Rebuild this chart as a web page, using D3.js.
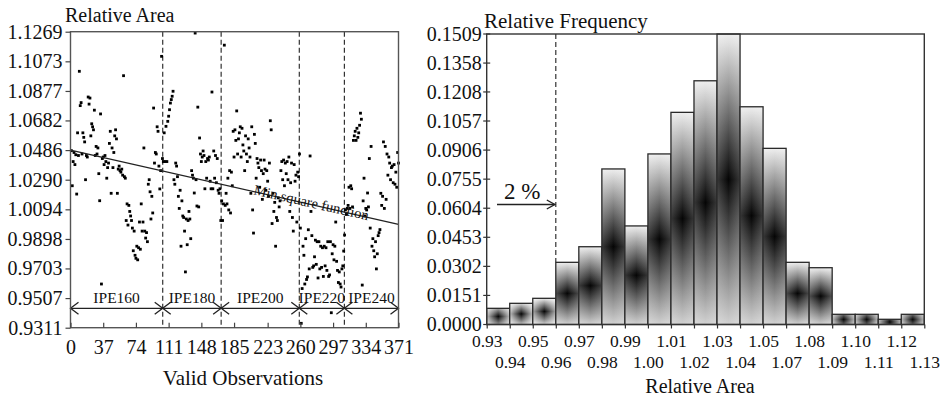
<!DOCTYPE html>
<html><head><meta charset="utf-8">
<script src="https://cdn.jsdelivr.net/npm/d3@7/dist/d3.min.js"></script>
<style>body{margin:0;background:#fff} svg{display:block}</style>
</head><body>
<svg id="chart" width="940" height="400" style="font-family:'Liberation Serif'"></svg>
<script>
const FONT = "Liberation Serif";
// ---------- Left panel data: relative area per valid observation ----------
const ipe160 = [
1.0482,1.025,1.041,1.047,1.039,1.0455,1.0195,1.060,1.045,1.1007,
1.078,1.080,1.046,1.060,1.057,1.054,1.029,1.045,1.044,1.0837,
1.079,1.083,1.058,1.066,1.064,1.062,1.075,1.045,1.051,1.046,
1.050,1.033,1.0151,1.0725,0.960,1.043,1.044,1.039,1.045,1.041,
1.030,1.037,1.040,1.053,1.061,1.020,1.050,1.037,1.047,1.058,
1.062,1.056,1.020,1.036,1.038,1.035,1.034,1.036,1.032,1.0978,
1.031,1.030,1.002,1.013,0.999,1.012,1.008,1.005,1.002,0.997,
0.982,0.995,0.979,0.977,0.985,0.976,0.984,1.001,0.983,1.013,
0.995,1.001,1.050,0.995,0.9904,0.994,0.988,1.026,1.029,1.021,
1.003,1.018,1.007,1.0764,1.040,1.047,1.046,1.064,1.061,1.038,
1.0229,1.035,1.1106,1.043];
const ipe180 = [
1.041,1.060,1.041,1.0643,1.041,1.0676,1.071,1.0753,1.0797,1.082,
1.0842,1.0875,1.029,1.026,1.040,1.038,1.031,1.018,1.010,1.022,
0.985,1.015,1.005,1.004,0.995,0.968,1.003,0.986,1.002,1.008,
1.003,0.990,1.035,1.032,1.030,1.0202,1.126,1.029,1.0116,1.077,
1.011,1.0566,1.046,1.041,1.044,1.048,1.045,1.023,1.041,1.030,
1.043,1.042,1.044,1.028,1.023,1.087,1.023,1.048,1.030,1.045,
1.027,1.043,1.022,1.020,1.023,1.002];
const ipe200 = [
1.015,1.002,1.013,1.118,1.012,1.020,1.013,1.030,1.009,1.035,
1.007,1.034,1.025,1.061,1.044,1.062,1.055,1.0745,1.046,1.056,
1.060,1.064,1.044,1.063,1.052,1.048,1.035,1.058,1.046,1.041,
1.056,1.050,1.044,1.020,1.064,1.009,0.9937,1.059,1.053,1.030,
1.043,1.040,1.037,1.024,1.042,1.035,1.016,1.033,1.042,1.036,
1.022,1.035,1.028,1.018,1.040,1.068,1.062,1.000,1.020,1.008,
1.014,0.985,1.004,1.002,1.017,1.011,1.015,1.035,1.041,1.029,
1.042,1.025,1.040,1.033,1.041,1.029,1.044,1.008,1.027,1.040,
1.004,0.995,1.039,1.028,1.032,1.001,1.034,1.031,1.046];
const ipe220 = [
0.997,0.934,0.957,0.985,0.979,0.960,0.990,0.963,0.9647,0.9959,
0.970,1.0447,1.008,0.992,0.971,0.972,0.978,0.989,0.973,0.988,
0.964,0.988,0.970,0.985,0.971,0.984,0.965,0.985,0.972,0.984,
0.969,0.988,0.965,0.966,0.988,0.941,0.980,0.986,0.976,0.985,
1.001,0.975,0.969,0.961,0.968,0.960,0.958,0.970,0.972,0.9818,
0.9924];
const ipe240 = [
1.009,1.006,1.010,1.012,1.024,1.010,1.025,1.023,1.011,1.055,
1.058,1.061,1.055,1.063,1.057,1.060,1.065,1.073,1.069,0.9593,
1.015,1.030,1.005,1.010,1.009,1.0202,1.011,1.043,0.997,1.051,
0.985,0.990,0.982,0.978,0.988,0.970,0.980,0.992,0.994,0.996,
1.020,1.012,1.018,1.054,1.010,1.051,1.016,1.046,1.032,1.044,
1.040,1.029,1.037,1.038,1.027,1.039,1.026,1.034,1.024,1.047,
1.040];
const segmentNames = ["IPE160","IPE180","IPE200","IPE220","IPE240"];
const segmentBounds = [0, 104.3, 170.4, 258.8, 309.8, 371];
const obsTicks = [0,37,74,111,148,185,223,260,297,334,371];
const areaTicks = [0.9311,0.9507,0.9703,0.9898,1.0094,1.0290,1.0486,1.0682,1.0877,1.1073,1.1269];
const fitEnds = [1.0486, 0.9995];   // least-squares line at obs 0 and 371
const segArrowLevel = 0.9439;

// ---------- Right panel data: histogram ----------
const binEdges = ["0.93","0.94","0.95","0.96","0.97","0.98","0.99","1.00","1.01","1.02",
                  "1.03","1.04","1.05","1.07","1.08","1.09","1.10","1.11","1.12","1.13"];
const binFreq = [0.0084,0.0110,0.0136,0.0323,0.0404,0.0808,0.0512,0.0886,0.1102,0.1266,
                 0.1509,0.1131,0.0915,0.0323,0.0295,0.0053,0.0053,0.0027,0.0053];
const freqTicks = [0.0000,0.0151,0.0302,0.0453,0.0604,0.0755,0.0906,0.1057,0.1208,0.1358,0.1509];
const markerEdge = "0.96";

const svg = d3.select("#chart");
svg.append("rect").attr("width",940).attr("height",400).attr("fill","#fff");
const defs = svg.append("defs");
const fmt4 = d3.format(".4f");
const txt = (g) => g.append("text").style("font-family",FONT).attr("fill","#111");

// ================= LEFT PANEL =================
const L = {x0:70.5, x1:398.5, y0:31.7, y1:327.7};
const relArea = [].concat(ipe160, ipe180, ipe200, ipe220, ipe240);
const xs = d3.scaleLinear().domain([0,371]).range([L.x0, L.x1]);
const ys = d3.scaleLinear().domain([0.9311,1.1269]).range([L.y1, L.y0]);

const gl = svg.append("g");
gl.selectAll("line.sep").data(segmentBounds.slice(1,-1)).join("line")
  .attr("x1", d=>xs(d)).attr("x2", d=>xs(d)).attr("y1", L.y0).attr("y2", L.y1)
  .attr("stroke","#333").attr("stroke-width",1.2).attr("stroke-dasharray","5,3");

gl.selectAll("rect.pt").data(relArea).join("rect")
  .attr("x",(d,i)=>xs(i+1)-1.4).attr("y",d=>ys(d)-1.4)
  .attr("width",2.8).attr("height",2.8).attr("fill","#000");

gl.append("line")
  .attr("x1",xs(0)).attr("y1",ys(fitEnds[0]))
  .attr("x2",xs(371)).attr("y2",ys(fitEnds[1]))
  .attr("stroke","#222").attr("stroke-width",1.3);
const ang = Math.atan2(ys(fitEnds[1])-ys(fitEnds[0]), xs(371)-xs(0))*180/Math.PI;
const lx = 253, ly = ys(fitEnds[0]) + (lx - xs(0))*Math.tan(ang*Math.PI/180) + 3;
txt(gl).attr("transform",`translate(${lx},${ly}) rotate(${ang})`)
  .attr("font-size",14.5).text("Min square function");

const ay = ys(segArrowLevel);
const segs = d3.range(5).map(i=>({name:segmentNames[i], a:segmentBounds[i], b:segmentBounds[i+1]}));
segs.forEach(s=>{
  const xa = xs(s.a), xb = xs(s.b);
  gl.append("line").attr("x1",xa).attr("x2",xb).attr("y1",ay).attr("y2",ay)
    .attr("stroke","#222").attr("stroke-width",1.3);
  gl.append("path").attr("d",`M${xa+8},${ay-6}L${xa},${ay}L${xa+8},${ay+6}`)
    .attr("fill","none").attr("stroke","#222").attr("stroke-width",1.3);
  gl.append("path").attr("d",`M${xb-8},${ay-6}L${xb},${ay}L${xb-8},${ay+6}`)
    .attr("fill","none").attr("stroke","#222").attr("stroke-width",1.3);
  txt(gl).attr("x",(xa+xb)/2).attr("y",ay-5).attr("text-anchor","middle")
    .attr("font-size",15.5).text(s.name);
});

gl.append("rect").attr("x",L.x0).attr("y",L.y0).attr("width",L.x1-L.x0).attr("height",L.y1-L.y0)
  .attr("fill","none").attr("stroke","#555").attr("stroke-width",1.4);

const yAxL = gl.append("g").attr("transform",`translate(${L.x0},0)`)
  .call(d3.axisLeft(ys).tickValues(areaTicks).tickFormat(fmt4).tickSize(5).tickPadding(3));
const xAxL = gl.append("g").attr("transform",`translate(0,${L.y1})`)
  .call(d3.axisBottom(xs).tickValues(obsTicks).tickFormat(d3.format("d")).tickSize(-5).tickPadding(12));
[yAxL,xAxL].forEach(a=>{
  a.attr("font-size",20).attr("font-family",null);
  a.select(".domain").remove();
  a.selectAll("line").attr("stroke","#444").attr("stroke-width",1.2);
  a.selectAll("text").attr("fill","#111").style("font-family",FONT);
});
txt(gl).attr("x",65).attr("y",21.5).attr("font-size",20).text("Relative Area");
txt(gl).attr("x",243).attr("y",385).attr("text-anchor","middle").attr("font-size",21).text("Valid Observations");

// ================= RIGHT PANEL =================
const R = {x0:486.7, x1:924.3, y0:34, y1:324.5};
const xb = d3.scaleBand().domain(d3.range(binFreq.length)).range([R.x0,R.x1]).padding(0);
const xe = d3.scalePoint().domain(binEdges).range([R.x0,R.x1]);
const yf = d3.scaleLinear().domain([0,0.1509]).range([R.y1,R.y0]);

const gr = svg.append("g");
const gray = t => { const v = Math.round(Math.max(0,Math.min(1,t))*238); return `rgb(${v},${v},${v})`; };

binFreq.forEach((v,i)=>{
  const w = xb.bandwidth(), h = R.y1 - yf(v);
  const hw = w/2, hh = h/2, s = Math.max(hw,hh);
  const tv = hh/s, th = hw/s;
  const vg = defs.append("linearGradient").attr("id","vg"+i)
    .attr("x1",0).attr("y1",0).attr("x2",0).attr("y2",1);
  vg.append("stop").attr("offset","0%").attr("stop-color",gray(tv*1.0));
  vg.append("stop").attr("offset","50%").attr("stop-color","#050505");
  vg.append("stop").attr("offset","100%").attr("stop-color",gray(tv*0.88));
  const hg = defs.append("linearGradient").attr("id","hg"+i)
    .attr("x1",0).attr("y1",0).attr("x2",1).attr("y2",0);
  const a = Math.max(0.2, th*0.75);
  hg.append("stop").attr("offset","0%").attr("stop-color","#fff").attr("stop-opacity",a);
  hg.append("stop").attr("offset","50%").attr("stop-color","#fff").attr("stop-opacity",0);
  hg.append("stop").attr("offset","100%").attr("stop-color","#fff").attr("stop-opacity",a);
});

const bars = gr.selectAll("g.bar").data(binFreq).join("g").attr("class","bar");
bars.append("rect")
  .attr("x",(d,i)=>xb(i)).attr("y",d=>yf(d)).attr("width",xb.bandwidth()).attr("height",d=>R.y1-yf(d))
  .attr("fill",(d,i)=>`url(#vg${i})`);
bars.append("rect")
  .attr("x",(d,i)=>xb(i)).attr("y",d=>yf(d)).attr("width",xb.bandwidth()).attr("height",d=>R.y1-yf(d))
  .attr("fill",(d,i)=>`url(#hg${i})`).attr("stroke","#2a2a2a").attr("stroke-width",1.3);

const mx = xe(markerEdge);
gr.append("line").attr("x1",mx).attr("x2",mx).attr("y1",R.y0).attr("y2",yf(binFreq[binEdges.indexOf(markerEdge)]))
  .attr("stroke","#333").attr("stroke-width",1.2).attr("stroke-dasharray","5,3");
const arY = 204.5;
gr.append("line").attr("x1",497).attr("x2",mx-1).attr("y1",arY).attr("y2",arY).attr("stroke","#222").attr("stroke-width",1.4);
gr.append("path").attr("d",`M${mx-9},${arY-4.5}L${mx-1},${arY}L${mx-9},${arY+4.5}`)
  .attr("fill","none").attr("stroke","#222").attr("stroke-width",1.4);
txt(gr).attr("x",504).attr("y",198.5).attr("font-size",23).text("2 %");

gr.append("rect").attr("x",R.x0).attr("y",R.y0).attr("width",R.x1-R.x0).attr("height",R.y1-R.y0)
  .attr("fill","none").attr("stroke","#333").attr("stroke-width",1.4);

gr.selectAll("line.ytk").data(freqTicks).join("line")
  .attr("x1",R.x0-3.5).attr("x2",R.x0+3.5).attr("y1",d=>yf(d)).attr("y2",d=>yf(d))
  .attr("stroke","#333").attr("stroke-width",1.2);
gr.selectAll("text.ylab").data(freqTicks).join("text")
  .style("font-family",FONT).attr("fill","#111")
  .attr("x",R.x0-5).attr("y",d=>yf(d)).attr("dy","0.34em").attr("text-anchor","end")
  .attr("font-size",20).text(d=>fmt4(d));

const xAxR = gr.append("g").attr("transform",`translate(0,${R.y1})`)
  .call(d3.axisBottom(xe).tickSize(4).tickPadding(6));
xAxR.attr("font-size",17.5).attr("font-family",null);
xAxR.select(".domain").remove();
xAxR.selectAll("line").attr("stroke","#333").attr("stroke-width",1.2);
xAxR.selectAll("text").attr("fill","#111").style("font-family",FONT)
  .attr("transform",(d,i)=> i%2 ? "translate(0,21.5)" : null);
txt(gr).attr("x",700).attr("y",393).attr("text-anchor","middle").attr("font-size",20).text("Relative Area");
txt(gr).attr("x",484).attr("y",28).attr("font-size",21).text("Relative Frequency");
</script>
</body></html>
